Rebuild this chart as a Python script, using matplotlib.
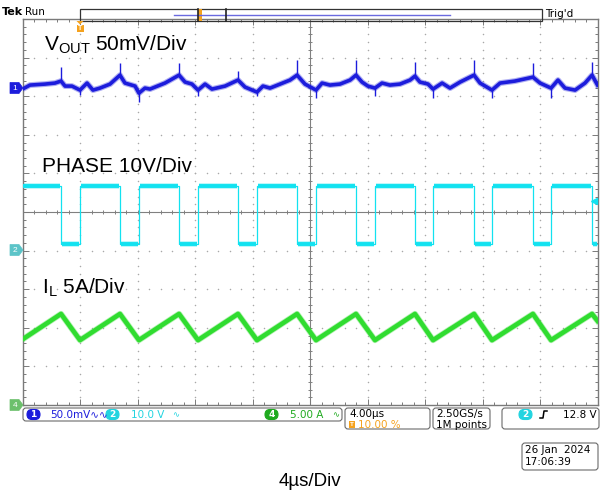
import numpy as np
import matplotlib.pyplot as plt
from matplotlib.patches import FancyBboxPatch, Rectangle, Polygon

plt.rcParams['font.family'] = ['Liberation Sans', 'DejaVu Sans']
plt.rcParams['mathtext.fontset'] = 'custom'
plt.rcParams['mathtext.rm'] = 'Liberation Sans'

# horizontal: 4 us/div over 10 divisions, vertical: 10 divisions
t_div = 4.0
ch1_scale, ch1_offset = 50.0, 3.21   # Vout, mV/div, marker position (div)
ch2_scale, ch2_offset = 10.0, -1.0   # PHASE, V/div
ch4_scale, ch4_offset = 5.0, -5.0    # IL, A/div
trig_level = 12.8

# PHASE switching edges (us) and levels (V)
phase_rise = [4.00, 8.10, 12.21, 16.31, 20.42, 24.52, 28.56, 32.66, 36.77]
phase_fall = [2.68, 6.78, 10.89, 14.99, 19.10, 23.20, 27.30, 31.41, 35.51, 39.62]
phase_high = 16.8
phase_low = 1.8

# inductor current corners (us, A)
il_t = [0.0, 2.68, 4.00, 6.78, 8.10, 10.89, 12.21, 14.99, 16.31, 19.10, 20.42,
        23.20, 24.52, 27.30, 28.56, 31.41, 32.66, 35.51, 36.77, 39.62, 40.0]
il_a = [8.5, 11.8, 8.4, 11.8, 8.4, 11.8, 8.4, 11.8, 8.4, 11.8, 8.4,
        11.8, 8.4, 11.8, 8.4, 11.8, 8.4, 11.8, 8.4, 11.8, 10.9]

# output ripple (us, mV, AC coupled)
vout_t = [0.00, 0.52, 1.57, 2.26, 2.68, 2.96, 3.44, 4.00, 4.49, 4.90, 5.39, 6.09,
          6.78, 7.13, 7.83, 8.10, 8.52, 8.87, 9.91, 10.89, 11.31, 11.79, 12.21,
          12.70, 13.18, 14.09, 14.99, 15.48, 16.31, 16.73, 17.22, 17.92, 18.61,
          19.10, 19.65, 20.42, 20.84, 21.39, 22.09, 22.79, 23.20, 23.62, 24.03,
          24.52, 25.01, 25.56, 26.26, 26.96, 27.30, 27.65, 28.21, 28.56, 29.19,
          29.74, 30.44, 31.41, 31.83, 32.66, 33.22, 34.26, 35.51, 36.00, 36.77,
          37.25, 37.74, 38.44, 39.13, 39.62, 40.00]
vout_mv = [-1.3, 3.9, 5.2, 6.5, 9.1, 2.6, 2.6, -2.6, 6.5, -2.6, 0.0, 5.2,
           16.8, 6.5, 2.6, -6.5, 0.0, -1.3, 6.5, 16.8, 7.8, 5.2, -2.6,
           5.2, -1.3, 2.6, 10.4, 1.3, -5.2, 2.6, 0.0, 5.2, 10.4,
           16.8, 5.2, -2.6, 6.5, 3.9, 5.2, 10.4, 16.8, 7.8, 2.6,
           0.0, 6.5, 3.9, 5.2, 10.4, 15.5, 7.8, 5.2, -1.3, 6.5,
           0.0, 7.8, 16.8, 6.5, -2.6, 6.5, 9.1, 14.2, 6.5, 0.0,
           10.4, 0.0, -2.6, 6.5, 16.8, 3.9]

# switching spikes on Vout (us, from mV, to mV)
spike_t = [2.68, 6.78, 10.89, 14.99, 19.10, 23.20, 27.30, 31.41, 35.51, 39.62,
           4.00, 8.10, 12.21, 16.31, 20.42, 24.52, 28.56, 32.66, 36.77]
spike_lo = [9, 17, 17, 10, 17, 17, 16, 17, 14, 17,
            -9, -18, -10, -10, -13, -10, -13, -13, -13]
spike_hi = [27, 32, 32, 22, 36, 36, 34, 36, 32, 34,
            -3, -6, -3, -5, -3, 0, -1, -3, 0]

blue = '#1c1cdc'
cyan = '#12e2f0'
green = '#30dc30'
orange = '#f5a21e'

W, H = 604, 492
fig = plt.figure(figsize=(W / 100, H / 100), dpi=100)
ax = fig.add_axes([22.5 / W, 1 - 405 / H, 575 / W, 386 / H])
ax.set_xlim(0, 10 * t_div)
ax.set_ylim(-5, 5)

# graticule
for s in ax.spines.values():
    s.set_color('#7a7a7a')
    s.set_linewidth(1.0)
ax.set_xticks(np.arange(0, 40.1, t_div))
ax.set_xticks(np.arange(0, 40.1, 0.8), minor=True)
ax.set_yticks(np.arange(-5, 5.1, 1))
ax.set_yticks(np.arange(-5, 5.1, 0.2), minor=True)
ax.tick_params(which='both', direction='in', top=True, right=True,
               labelbottom=False, labelleft=False, color='#7a7a7a', width=0.7)
ax.tick_params(which='major', length=4)
ax.tick_params(which='minor', length=2.5)

dot_kw = dict(color='#a8a8a8', s=1.2, linewidths=0, zorder=1)
for yk in range(-4, 5):
    if yk == 0:
        continue
    xs = np.arange(0.8, 40, 0.8)
    ax.scatter(xs, np.full_like(xs, yk), **dot_kw)
for xk in range(1, 10):
    if xk == 5:
        continue
    ys = np.arange(-4.8, 5, 0.2)
    ax.scatter(np.full_like(ys, xk * t_div), ys, **dot_kw)
ax.axhline(0, color='#808080', lw=0.8, zorder=1)
ax.axvline(20, color='#808080', lw=0.8, zorder=1)
xs = np.arange(0.8, 40, 0.8)
ax.scatter(xs, np.zeros_like(xs), marker='|', s=12, color='#808080', linewidths=0.7, zorder=1)
ys = np.arange(-4.8, 5, 0.2)
ax.scatter(np.full_like(ys, 20), ys, marker='_', s=12, color='#808080', linewidths=0.7, zorder=1)

# Vout: faint noise band under the trace, then the trace and the spikes
vy = np.array(vout_mv) / ch1_scale + ch1_offset
ax.plot(vout_t, vy, color=blue, lw=4.2, alpha=0.35, solid_joinstyle='round', zorder=2)
ax.plot(vout_t, vy, color=blue, lw=2.6, solid_joinstyle='round', zorder=3)
ax.vlines(spike_t, np.array(spike_lo) / ch1_scale + ch1_offset,
          np.array(spike_hi) / ch1_scale + ch1_offset, color=blue, lw=1.0, zorder=3)

# PHASE
edges = sorted([(t, phase_high) for t in phase_rise] + [(t, phase_low) for t in phase_fall])
pt, pv = [0.0], [phase_high]
for t, v in edges:
    pt += [t, t]
    pv += [pv[-1], v]
pt.append(40.0)
pv.append(pv[-1])
py = np.array(pv) / ch2_scale + ch2_offset
ax.plot(pt, py, color=cyan, lw=0.9, zorder=3)
seg = [(pt[i], pt[i + 1], py[i]) for i in range(len(pt) - 1) if pv[i] == pv[i + 1] and pt[i + 1] > pt[i]]
ax.hlines([s[2] for s in seg], [s[0] + 0.04 for s in seg], [s[1] - 0.04 for s in seg],
          color=cyan, lw=4.0, alpha=0.35, zorder=2)
ax.hlines([s[2] for s in seg], [s[0] + 0.04 for s in seg], [s[1] - 0.04 for s in seg],
          color=cyan, lw=2.8, zorder=3)
ax.plot(39.75, trig_level / ch2_scale + ch2_offset, marker='<', ms=4, color=cyan, zorder=4)

# IL
iy = np.array(il_a) / ch4_scale + ch4_offset
ax.plot(il_t, iy, color=green, lw=4.4, alpha=0.35, solid_joinstyle='round', zorder=2)
ax.plot(il_t, iy, color=green, lw=3.3, solid_joinstyle='round', zorder=3)

# overlay in pixel coordinates for the scope readouts
ov = fig.add_axes([0, 0, 1, 1], zorder=5)
ov.set_xlim(0, W)
ov.set_ylim(H, 0)
ov.axis('off')
ov.patch.set_alpha(0)

def box(x0, y0, x1, y1, fc='none', ec='#6a6a6a', r=3, lw=0.8):
    ov.add_patch(FancyBboxPatch((x0, y0), x1 - x0, y1 - y0,
                                boxstyle='round,pad=0,rounding_size=%g' % r,
                                fc=fc, ec=ec, lw=lw))

def badge(x0, yc, label, color):
    box(x0, yc - 5, x0 + 13, yc + 5, fc=color, ec=color, r=5)
    ov.text(x0 + 6.5, yc + 0.3, label, color='white', fontsize=6.5, ha='center',
            va='center', family='DejaVu Sans', weight='bold')

small = dict(fontsize=7.5, va='center', family='DejaVu Sans')

# status line
ov.text(2, 12, 'Tek', fontsize=8, weight='bold', va='center', family='DejaVu Sans')
ov.text(25, 12, 'Run', fontsize=7.5, va='center', family='DejaVu Sans')
ov.add_patch(Rectangle((80, 9), 462, 12, fc='none', ec='#333333', lw=0.9))
ov.plot([174, 450], [15, 15], color='#6a6ae0', lw=1)
ov.add_patch(Rectangle((198, 9), 4, 12, fc=orange, ec='none'))
ov.plot([198, 198], [9, 21], color='#222222', lw=1.2)
ov.plot([226, 226], [9, 21], color='#222222', lw=1.2)
ov.text(545, 14, "Trig'd", fontsize=7.5, va='center', family='DejaVu Sans')
ov.add_patch(Polygon([(76.5, 21), (83.5, 21), (80, 24.5)], fc=orange, ec='none'))
ov.add_patch(Rectangle((76.5, 24.5), 7, 7, fc=orange, ec='none'))
ov.text(80, 28, 'T', color='white', fontsize=5, ha='center', va='center', weight='bold')

# channel ground markers
for yc, lab, col in [(88, '1', blue), (250, '2', '#5cc4c8'), (405, '4', '#6cc06c')]:
    ov.add_patch(Polygon([(10, yc - 5.5), (19, yc - 5.5), (23, yc), (19, yc + 5.5), (10, yc + 5.5)],
                         fc=col, ec=col, lw=0.5))
    ov.text(15, yc + 0.3, lab, color='white', fontsize=6, ha='center', va='center')

# channel labels
ov.text(44, 45, r'V$_{\mathregular{OUT}}$ 50mV/Div', fontsize=15, va='center')
ov.text(42, 166, 'PHASE 10V/Div', fontsize=15, va='center')
ov.text(42, 288, r'I$_{\mathregular{L}}$ 5A/Div', fontsize=15, va='center')

# readout bar
box(23, 408, 342, 421)
badge(27, 414.5, '1', blue)
ov.text(50, 414.5, '50.0mV\u223f\u223f', color=blue, **small)
badge(106, 414.5, '2', '#22d4e0')
ov.text(131, 414.5, '10.0 V', color='#22d4e0', **small)
ov.text(172, 414.5, '\u223f', color='#22d4e0', fontsize=6, va='center', family='DejaVu Sans')
badge(265, 414.5, '4', '#1faa1f')
ov.text(290, 414.5, '5.00 A', color='#1faa1f', **small)
ov.text(332, 414.5, '\u223f', color='#1faa1f', fontsize=6, va='center', family='DejaVu Sans')

box(345, 408, 430, 429)
ov.text(349, 414, '4.00\u00b5s', color='black', **small)
ov.add_patch(Rectangle((349, 421), 6, 6.5, fc=orange, ec='none'))
ov.text(352, 424.5, 'T', color='white', fontsize=4.5, ha='center', va='center', weight='bold')
ov.text(358, 424.5, '10.00 %', color=orange, **small)

box(433, 408, 490, 429)
ov.text(436, 414, '2.50GS/s', color='black', **small)
ov.text(436, 424.5, '1M points', color='black', **small)

box(502, 408, 599, 429)
badge(519, 414.5, '2', '#22d4e0')
ov.plot([540, 543, 544, 547], [418, 418, 411, 411], color='black', lw=1.1)
ov.text(597, 414.5, '12.8 V', color='black', ha='right', fontsize=7.5, va='center', family='DejaVu Sans')

box(522, 443, 598, 470)
ov.text(525, 450, '26 Jan  2024', color='black', **small)
ov.text(525, 462, '17:06:39', color='black', **small)

ov.text(310, 481, '4\u00b5s/Div', fontsize=13.5, ha='center', va='center')

fig.savefig('out.png', dpi=100)
